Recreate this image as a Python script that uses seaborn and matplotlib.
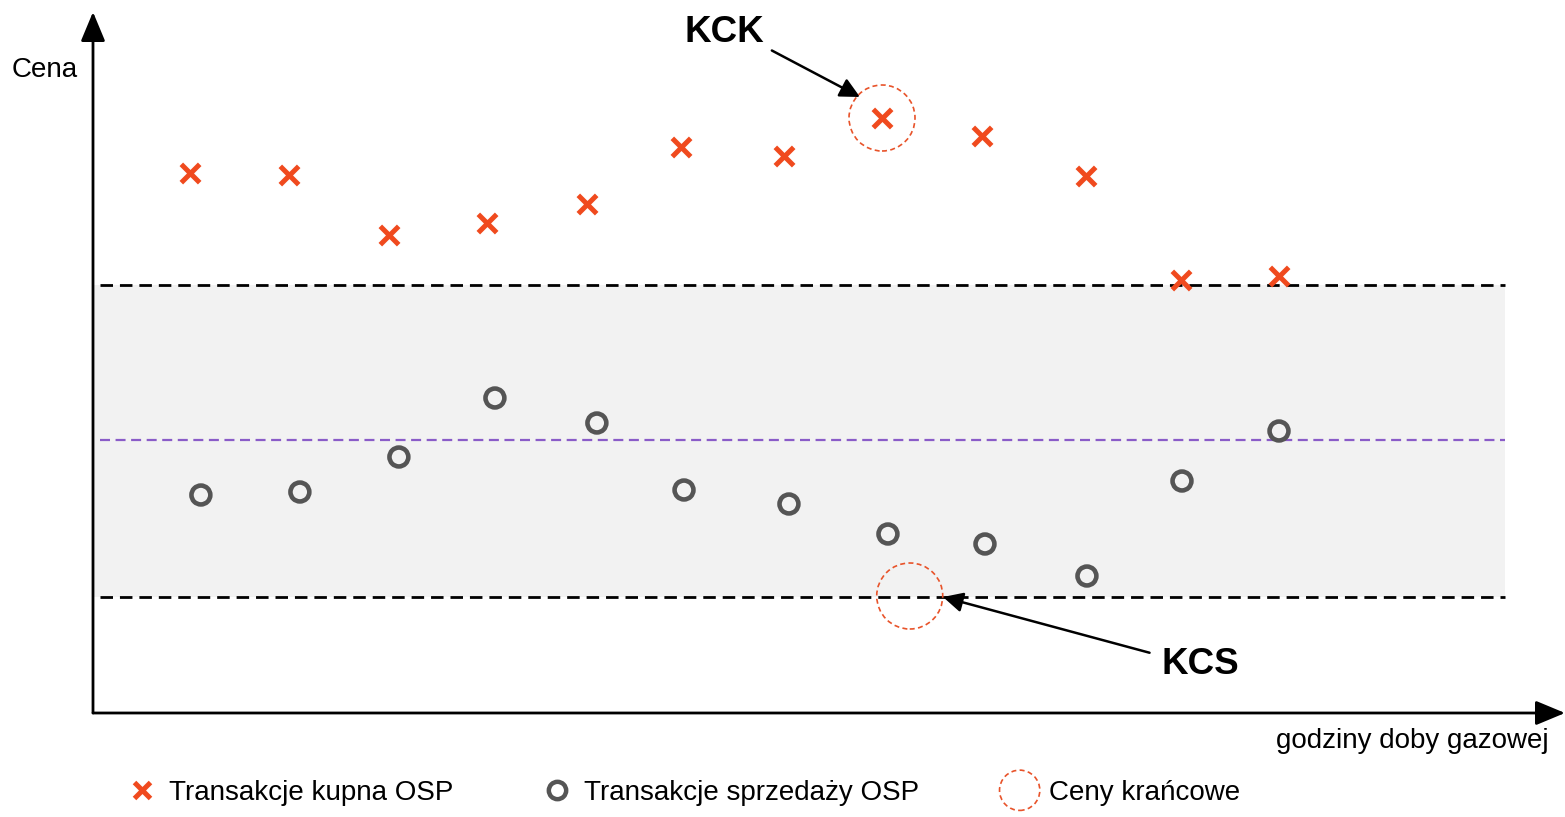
import numpy as np
import pandas as pd
import matplotlib
matplotlib.use("Agg")
import matplotlib.pyplot as plt
import seaborn as sns
from matplotlib.patches import Ellipse
from matplotlib.lines import Line2D
from matplotlib.legend_handler import HandlerPatch

# ---- data (arbitrary price units) ----
buy_hours = [1.0, 2.0, 3.01, 4.0, 5.01, 5.96, 7.0, 7.99, 9.0, 10.05, 11.01, 12.0]
buy_price = [54.0, 53.8, 47.8, 49.0, 50.9, 56.6, 55.7, 59.5, 57.7, 53.7, 43.3, 43.7]
sell_hours = [1.11, 2.11, 3.11, 4.08, 5.11, 5.99, 7.05, 8.05, 9.03, 10.06, 11.02, 12.0]
sell_price = [21.8, 22.1, 25.6, 31.5, 29.0, 22.3, 20.9, 17.9, 16.9, 13.7, 23.2, 28.2]
upper_bound = 42.8
mean_price = 27.3
lower_bound = 11.6
kck = (7.99, 59.5)
kcs = (8.27, 11.7)

labels = ["Transakcje kupna OSP", "Transakcje sprzedaży OSP", "Ceny krańcowe"]
x_label = "godziny doby gazowej"
y_label = "Cena"

buy = pd.DataFrame({"hour": buy_hours, "price": buy_price})
sell = pd.DataFrame({"hour": sell_hours, "price": sell_price})

sns.set_style("white")
plt.rcParams["font.family"] = ["Liberation Sans", "DejaVu Sans"]
plt.rcParams["text.color"] = "black"

W, H = 1565, 817
fig = plt.figure(figsize=(W / 100, H / 100), dpi=100)
x0p, y0p, x1p, ytop = 93, 713, 1565, 12
ax = fig.add_axes([x0p / W, (H - y0p) / H, (x1p - x0p) / W, (y0p - ytop) / H])

def px2x(p):
    return (p - 91) / 99.0

ax.set_xlim(px2x(x0p), px2x(x1p))
ax.set_ylim(0, (y0p - ytop) / 10.0)
for s in ax.spines.values():
    s.set_visible(False)
ax.set_xticks([])
ax.set_yticks([])
ax.patch.set_alpha(0)

ORANGE = "#F04A1E"
GREY = "#555555"
RED = "#E8532A"

xl, xr = px2x(100), px2x(1505)
ax.fill_between([px2x(93), xr], lower_bound, upper_bound, color="#F2F2F2", lw=0, zorder=0)
for yv, c, lw in [(upper_bound, "black", 2.0), (lower_bound, "black", 2.0), (mean_price, "#8A5CC8", 1.6)]:
    ax.plot([xl, xr], [yv, yv], color=c, lw=lw, ls=(0, (4.5, 2.5)), zorder=1)

sns.scatterplot(data=buy, x="hour", y="price", marker="x", color=ORANGE, s=175,
                linewidth=3.6, ax=ax, zorder=3, legend=False)
sns.scatterplot(data=sell, x="hour", y="price", marker="o", s=185, facecolors="none",
                edgecolor=GREY, linewidth=3.3, ax=ax, zorder=3, legend=False)

r = 33
for cx, cy in [kck, kcs]:
    ax.add_patch(Ellipse((cx, cy), 2 * r / 99.0, 2 * r / 10.0, fill=False, ec=RED,
                         lw=1.2, ls=(0, (3, 2)), zorder=4))

ax.set_xlabel("")
ax.set_ylabel("")

# axis arrows
ap = dict(arrowstyle="-|>,head_length=0.6,head_width=0.25", lw=2.0, color="black",
          mutation_scale=30, shrinkA=0, shrinkB=0)
ax.annotate("", xy=(0, 1), xytext=(0, 0), xycoords="axes fraction", arrowprops=ap, annotation_clip=False)
ax.annotate("", xy=(1, 0), xytext=(0, 0), xycoords="axes fraction", arrowprops=ap, annotation_clip=False)

# annotations
aa = dict(arrowstyle="-|>", lw=1.8, color="black", mutation_scale=30, shrinkA=0, shrinkB=0)
ax.annotate("KCK", xy=(px2x(860), (y0p - 97) / 10), xytext=(px2x(724), (y0p - 33) / 10),
            fontsize=26.5, fontweight="bold", ha="center", va="center", color="black",
            arrowprops=dict(aa, relpos=(1.1, 0.0)))
ax.annotate("KCS", xy=(px2x(943), (y0p - 597) / 10), xytext=(px2x(1200), (y0p - 665) / 10),
            fontsize=26.5, fontweight="bold", ha="center", va="center", color="black",
            arrowprops=dict(aa, relpos=(-0.15, 0.85)))

fig.text(45 / W, 1 - 70 / H, y_label, fontsize=20, ha="center", va="center", color="black")
fig.text(1549 / W, 1 - 741 / H, x_label, fontsize=20, ha="right", va="center", color="black")

class HandlerCircle(HandlerPatch):
    def create_artists(self, legend, orig_handle, xdescent, ydescent, width, height, fontsize, trans):
        cx = width / 2 - xdescent - 2
        cy = height / 2 - ydescent
        p = Ellipse((cx, cy), 29, 29, fill=False, ec=RED, lw=1.2, ls=(0, (3, 2)))
        p.set_transform(trans)
        return [p]

h1 = Line2D([], [], ls="none", marker="x", color=ORANGE, markersize=12, markeredgewidth=3.6)
h2 = Line2D([], [], ls="none", marker="o", markerfacecolor="none", markeredgecolor=GREY,
            markersize=12.5, markeredgewidth=3.2)
h3 = Ellipse((0, 0), 1, 1)
leg = fig.legend([h1, h2, h3], labels, handler_map={Ellipse: HandlerCircle()},
                 loc="center", bbox_to_anchor=(0.4365, 1 - 793 / H), ncol=3, frameon=False,
                 fontsize=20, handlelength=1.2, handletextpad=0.37, columnspacing=3.12)
for t in leg.get_texts():
    t.set_color("black")

fig.savefig("out.png", dpi=100)
